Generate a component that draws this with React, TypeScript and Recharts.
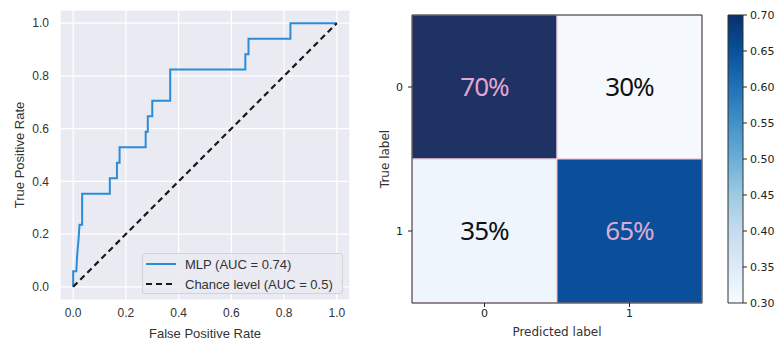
import {
  LineChart, Line, XAxis, YAxis, CartesianGrid, Legend,
  ScatterChart, Scatter, ReferenceArea,
} from "recharts";

// ROC curve of the MLP
const rocFpr = [0, 0, 0.012, 0.015, 0.02, 0.024, 0.034, 0.034, 0.139, 0.139, 0.166, 0.166, 0.176, 0.176,
  0.275, 0.275, 0.283, 0.283, 0.3, 0.3, 0.368, 0.368, 0.653, 0.653, 0.665, 0.665, 0.824, 0.824, 1.0];
const rocTpr = [0, 0.059, 0.059, 0.118, 0.176, 0.235, 0.235, 0.353, 0.353, 0.412, 0.412, 0.471, 0.471, 0.529,
  0.529, 0.588, 0.588, 0.647, 0.647, 0.706, 0.706, 0.824, 0.824, 0.882, 0.882, 0.941, 0.941, 1.0, 1.0];
const chanceFpr = [0, 1];
const chanceTpr = [0, 1];
const rateTicks = [0, 0.2, 0.4, 0.6, 0.8, 1.0];
const seriesNames = ["MLP (AUC = 0.74)", "Chance level (AUC = 0.5)"];

// confusion matrix (row = true label, col = predicted label)
const classTicks = [0, 1];
const cellRow = [0, 0, 1, 1];
const cellCol = [0, 1, 0, 1];
const cellValue = [0.7, 0.3, 0.35, 0.65];
const cellText = ["70%", "30%", "35%", "65%"];
const cellColor = ["#1e3264", "#f5f9fe", "#eef5fc", "#0b4f9b"];
const cellTextColor = ["#e3a6cf", "#111111", "#111111", "#ddaad6"];

// colorbar
const cbarTicks = [0.3, 0.35, 0.4, 0.45, 0.5, 0.55, 0.6, 0.65, 0.7];
const bluesStops = ["#f7fbff", "#deebf7", "#c6dbef", "#9ecae1", "#6baed6", "#4292c6", "#2171b5", "#08519c", "#08306b"];

const roc = rocFpr.map((x, i) => ({ x, y: rocTpr[i] }));
const chance = chanceFpr.map((x, i) => ({ x, y: chanceTpr[i] }));
const cells = cellValue.map((v, i) => ({ row: cellRow[i], col: cellCol[i], v }));

const sans = "'Liberation Sans', Arial, sans-serif";
const dejavu = "'DejaVu Sans', sans-serif";

function RocLegend(props: any) {
  const payload = [...(props.payload || [])].sort(
    (a: any, b: any) => seriesNames.indexOf(a.value) - seriesNames.indexOf(b.value));
  return (
    <div style={{
      width: 199, height: 39, background: "rgba(234,234,242,0.85)", border: "1px solid #d2d2da",
      borderRadius: 3, fontFamily: sans, fontSize: 13, color: "#333",
    }}>
      {payload.map((e: any, i: number) => (
        <div key={i} style={{ height: 20, display: "flex", alignItems: "center" }}>
          <svg width={42} height={20} style={{ flex: "none" }}>
            <line x1={3} x2={33} y1={10} y2={10} stroke={e.color}
              strokeWidth={2} strokeDasharray={e.payload?.strokeDasharray} />
          </svg>
          <span>{e.value}</span>
        </div>
      ))}
    </div>
  );
}

export default function App() {
  return (
    <div style={{ position: "relative", width: 780, height: 340, background: "#fff" }}>
      <style>{"body{margin:0}"}</style>

      <div style={{ position: "absolute", left: 0, top: 0 }}>
        <LineChart width={360} height={340} margin={{ top: 10, right: 10, left: 0, bottom: 0 }}>
          <CartesianGrid fill="#EAEAF2" stroke="#ffffff" strokeWidth={1.2} />
          <XAxis type="number" dataKey="x" domain={[-0.05, 1.05]} ticks={rateTicks} height={40}
            tickFormatter={(v: number) => v.toFixed(1)} tickLine={false} axisLine={false}
            tick={{ fontSize: 12, fill: "#333", fontFamily: sans }} allowDataOverflow
            label={{ value: "False Positive Rate", position: "insideBottom", offset: 2, fontSize: 13, fill: "#333", fontFamily: sans }} />
          <YAxis type="number" dataKey="y" domain={[-0.05, 1.05]} ticks={rateTicks} width={60}
            tickFormatter={(v: number) => v.toFixed(1)} tickLine={false} axisLine={false} tickMargin={5}
            tick={{ fontSize: 12, fill: "#333", fontFamily: sans }} allowDataOverflow
            label={{ value: "True Positive Rate", position: "insideLeft", angle: -90, offset: 19,
              style: { textAnchor: "middle" }, fontSize: 13, fill: "#333", fontFamily: sans }} />
          <Line data={roc} dataKey="y" name={seriesNames[0]} type="linear" stroke="#2b8cd6"
            strokeWidth={2} dot={false} isAnimationActive={false} />
          <Line data={chance} dataKey="y" name={seriesNames[1]} type="linear" stroke="#1a1a1a"
            strokeWidth={2.2} strokeDasharray="6 4" dot={false} isAnimationActive={false} />
          <Legend layout="horizontal" verticalAlign="middle" align="center" content={<RocLegend />}
            wrapperStyle={{ left: 142, top: 253, width: 201, height: 41, bottom: "auto" }} />
        </LineChart>
      </div>

      <div style={{ position: "absolute", left: 360, top: 0 }}>
        <ScatterChart width={350} height={340} margin={{ top: 15, right: 8, left: 0, bottom: 0 }}>
          <XAxis type="number" dataKey="col" domain={[-0.5, 1.5]} ticks={classTicks} height={37}
            tickSize={4} tickMargin={2} axisLine={false} tickLine={{ stroke: "#222" }}
            tick={{ fontSize: 11, fill: "#222", fontFamily: dejavu }}
            label={{ value: "Predicted label", position: "insideBottom", offset: 4, fontSize: 12, fill: "#333", fontFamily: dejavu }} />
          <YAxis type="number" dataKey="row" domain={[-0.5, 1.5]} ticks={classTicks} reversed width={52}
            tickSize={4} tickMargin={5} axisLine={false} tickLine={{ stroke: "#222" }}
            tick={{ fontSize: 11, fill: "#222", fontFamily: dejavu }}
            label={{ value: "True label", position: "insideLeft", angle: -90, offset: 25,
              style: { textAnchor: "middle" }, fontSize: 12, fill: "#333", fontFamily: dejavu }} />
          {cells.map((c, i) => (
            <ReferenceArea key={i} x1={c.col - 0.5} x2={c.col + 0.5} y1={c.row - 0.5} y2={c.row + 0.5}
              fill={cellColor[i]} fillOpacity={1} stroke="#ecc6d6" strokeWidth={1}
              label={{ value: cellText[i], position: "center", fontSize: 26, fill: cellTextColor[i],
                fontFamily: "'Noto Sans', sans-serif", letterSpacing: -1 }} />
          ))}
          <ReferenceArea x1={-0.5} x2={1.5} y1={-0.5} y2={1.5} fill="none" stroke="#333" strokeWidth={1} />
          <Scatter data={cells} shape={() => null} isAnimationActive={false} />
        </ScatterChart>
      </div>

      <div style={{ position: "absolute", left: 720, top: 0 }}>
        <ScatterChart width={60} height={340} margin={{ top: 15, right: 0, left: 8, bottom: 37 }}>
          <defs>
            <linearGradient id="blues" x1="0" y1="1" x2="0" y2="0">
              {bluesStops.map((c, i) => (
                <stop key={i} offset={i / (bluesStops.length - 1)} stopColor={c} />
              ))}
            </linearGradient>
          </defs>
          <XAxis type="number" dataKey="x" domain={[0, 1]} hide />
          <YAxis type="number" dataKey="y" orientation="right" domain={[0.3, 0.7]} ticks={cbarTicks} width={37}
            tickSize={4} tickMargin={3} axisLine={false} tickLine={{ stroke: "#222" }}
            tickFormatter={(v: number) => v.toFixed(2)}
            tick={{ fontSize: 11, fill: "#222", fontFamily: dejavu }} />
          <ReferenceArea x1={0} x2={1} y1={0.3} y2={0.7} fill="url(#blues)" fillOpacity={1} stroke="#333" strokeWidth={1} />
          <Scatter data={cbarTicks.map((y) => ({ x: 0.5, y }))} shape={() => null} isAnimationActive={false} />
        </ScatterChart>
      </div>
    </div>
  );
}
